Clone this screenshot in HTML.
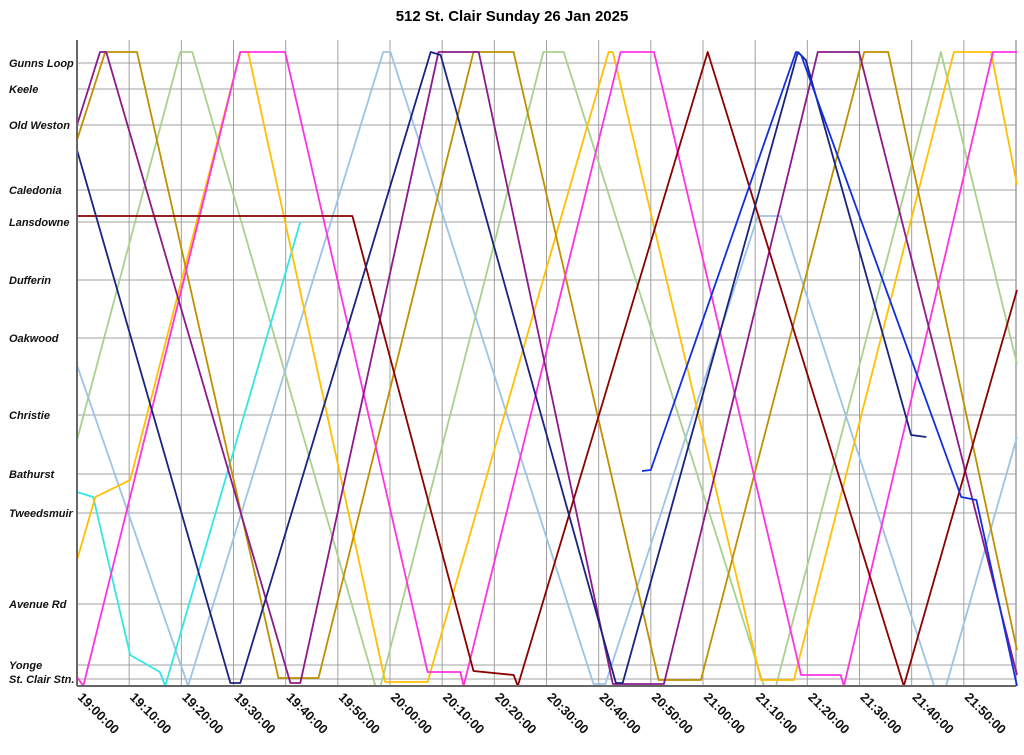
<!DOCTYPE html>
<html><head><meta charset="utf-8"><style>
body{margin:0;background:#fff;width:1024px;height:755px;overflow:hidden;font-family:"Liberation Sans",sans-serif}
svg{display:block}
</style></head><body>
<svg id="chart" width="1024" height="755" xmlns="http://www.w3.org/2000/svg">
<text x="512" y="21" text-anchor="middle" font-size="15" font-weight="bold" font-family="Liberation Sans, sans-serif">512 St. Clair Sunday 26 Jan 2025</text>
<g id="grid"></g><g id="series"></g><g id="axes"></g>
</svg>
<script>
const stationNames=["Gunns Loop","Keele","Old Weston","Caledonia","Lansdowne","Dufferin","Oakwood","Christie","Bathurst","Tweedsmuir","Avenue Rd","Yonge","St. Clair Stn."];
const stationDist=[11,37,73,138,170,228,286,363,422,461,552,613,627];
const tickMinutes=[0,10,20,30,40,50,60,70,80,90,100,110,120,130,140,150,160,170];
const tickLabels=["19:00:00","19:10:00","19:20:00","19:30:00","19:40:00","19:50:00","20:00:00","20:10:00","20:20:00","20:30:00","20:40:00","20:50:00","21:00:00","21:10:00","21:20:00","21:30:00","21:40:00","21:50:00"];
const navyT=[0,29.4,31.3,67.8,69.7,103.3,104.6,138.2,139.7,159.9,162.8];
const navyD=[98,631,631,0,3,631,631,0,8,383,385];
const blueT=[108.3,110.0,137.8,138.8,169.5,172.4,180.2];
const blueD=[419,418,0,3,445,448,634];
const purpleT=[0,4.4,5.6,40.9,42.8,69.3,77.0,102.7,112.5,142.0,149.9,180.2];
const purpleD=[73,0,0,631,631,0,0,632,632,0,0,623];
const goldT=[0,5.4,11.5,38.6,46.3,76.0,83.7,111.5,119.6,150.9,155.5,180.2];
const goldD=[88,0,0,626,626,0,0,628,628,0,0,598];
const yellowT=[0,3.5,10.2,31.3,32.8,59.1,67.2,101.9,102.7,131.1,137.4,168.1,175.2,180.2];
const yellowD=[508,445,428,0,0,630,630,0,0,628,628,0,0,133];
const greenT=[0,19.8,22.1,57.2,58.2,89.4,93.3,131.7,134.0,165.6,180.2];
const greenD=[388,0,0,634,634,0,0,634,634,0,312];
const lightBlueT=[0,21.3,58.7,60.1,99.0,101.3,130.5,134.9,164.3,166.6,180.2];
const lightBlueD=[313,634,0,0,632,632,164,164,634,634,385];
const cyanT=[0,3.1,10.2,15.9,16.9,42.8];
const cyanD=[440,445,603,620,634,170];
const magentaT=[0,1.2,31.3,39.9,67.2,73.5,74.1,104.2,110.6,138.8,146.4,147.0,175.6,180.2];
const magentaD=[625,634,0,0,620,620,634,0,0,623,623,634,0,0];
const redT=[0,52.8,76.0,83.7,84.5,120.9,158.5,180.2];
const redD=[164,164,619,623,634,0,634,238];

const X0=77,X1=1016,Y0=52,Y1=686;
const xs=t=>X0+t*(X1-X0)/180;
const ys=d=>Y0+d*(Y1-Y0)/634;
const NS="http://www.w3.org/2000/svg";
function mk(tag,attrs,parent){const e=document.createElementNS(NS,tag);for(const k in attrs)e.setAttribute(k,attrs[k]);parent.appendChild(e);return e;}
const grid=document.getElementById('grid'),ser=document.getElementById('series'),ax=document.getElementById('axes');
stationDist.forEach((d,i)=>{
  const l=mk('line',{x1:X0,x2:X1,y1:ys(d),y2:ys(d),stroke:'#a0a0a0','stroke-width':1},grid);
  
  
  const t=mk('text',{x:9,y:ys(d)+4,'font-size':11,'font-weight':'bold','font-style':'italic','font-family':'Liberation Sans, sans-serif',fill:'#111'},ax);
  t.textContent=stationNames[i];
  
  
});
tickMinutes.forEach((m,i)=>{
  const x=xs(m);
  const l=mk('line',{x1:x,x2:x,y1:Y0-12,y2:Y1,stroke:'#a0a0a0','stroke-width':1},grid);
  
  
  const t=mk('text',{x:0,y:0,transform:`translate(${x},${Y1+12}) rotate(45)`,'font-size':13,'font-weight':'bold','font-family':'Liberation Sans, sans-serif',fill:'#111'},ax);
  t.textContent=tickLabels[i];
  
  
});
const r=mk('line',{x1:X1,x2:X1,y1:Y0-12,y2:Y1,stroke:'#a0a0a0','stroke-width':1.5},grid);


const ya=mk('line',{x1:X0,x2:X0,y1:Y0-12,y2:Y1,stroke:'#666','stroke-width':2},ax);


const xa=mk('line',{x1:X0,x2:X1,y1:Y1,y2:Y1,stroke:'#666','stroke-width':2},ax);


const series=[
 ['vehicle-lightgreen',greenT,greenD,'#a9d18e'],
 ['vehicle-lightblue',lightBlueT,lightBlueD,'#9dc3e6'],
 ['vehicle-cyan',cyanT,cyanD,'#33e6e6'],
 ['vehicle-yellow',yellowT,yellowD,'#ffc000'],
 ['vehicle-goldenrod',goldT,goldD,'#bf9000'],
 ['vehicle-magenta',magentaT,magentaD,'#ff33e0'],
 ['vehicle-purple',purpleT,purpleD,'#8b1a8b'],
 ['vehicle-darkred',redT,redD,'#8b0000'],
 ['vehicle-navy',navyT,navyD,'#1a237e'],
 ['vehicle-blue',blueT,blueD,'#1030e0']
];
series.forEach(s=>{
  const pts=s[1].map((t,i)=>xs(t).toFixed(1)+','+ys(s[2][i]).toFixed(1)).join(' ');
  const p=mk('polyline',{points:pts,fill:'none',stroke:s[3],'stroke-width':1.8,'stroke-linejoin':'round'},ser);
  
  
});
</script>
</body></html>
